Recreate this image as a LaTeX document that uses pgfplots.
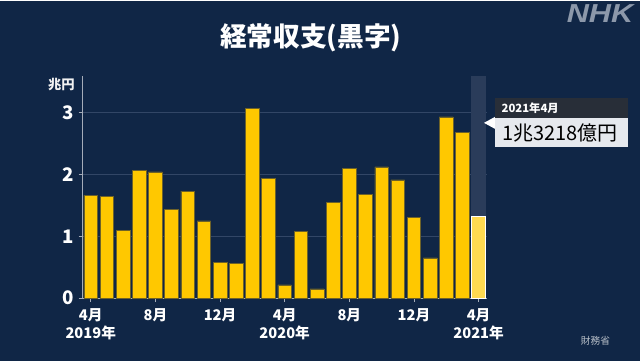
\documentclass[border=0pt]{standalone}
\usepackage{pgfplots}
\pgfplotsset{compat=1.18}
\usepackage{fontspec}
\setmainfont{Noto Sans CJK JP}
\newfontfamily\nhkfont{Liberation Sans}
\definecolor{bg}{RGB}{16,38,70}
\definecolor{hl}{RGB}{42,60,90}
\definecolor{gridc}{RGB}{50,70,102}
\definecolor{axc}{RGB}{165,172,185}
\definecolor{barc}{RGB}{255,200,0}
\definecolor{barl}{RGB}{255,218,80}
\definecolor{bard}{RGB}{110,98,40}
\definecolor{boxd}{RGB}{40,46,56}
\definecolor{boxl}{RGB}{230,233,238}
\definecolor{nhkc}{RGB}{140,152,170}
\begin{document}
\begin{tikzpicture}
\fill[bg] (0,0) rectangle (480pt,270pt);
\begin{axis}[
  at={(62pt,47pt)}, anchor=south west,
  scale only axis, width=303pt, height=166.7pt,
  xmin=-0.5, xmax=24.5, ymin=0, ymax=3.59,
  axis line style={draw=axc, line width=0.6pt},
  axis x line*=bottom, axis y line*=left,
  ymajorgrids, grid style={gridc, line width=0.5pt},
  ytick={0,1,2,3},
  xtick={0,4,8,12,16,20,24},
  xticklabels={{4月\\2019年},8月,12月,{4月\\2020年},8月,12月,{4月\\2021年}},
  tick style={draw=axc, line width=0.6pt},
  tick align=outside,
  major tick length=3pt,
  /pgf/number format/assume math mode=true,
  xticklabel style={align=center, text=white, font=\bfseries\fontsize{11}{13.5}\selectfont, yshift=-1pt},
  yticklabel style={text=white, font=\bfseries\fontsize{14}{14}\selectfont, xshift=0pt},
  clip=false,
]
\addplot[ybar, bar width=0.95, bar shift=0pt, fill=hl, draw=none] coordinates {(24,3.59)};
\addplot[ybar, bar width=0.84, bar shift=0pt, fill=barc, draw=bard, line width=0.4pt] coordinates {
(0,1.66) (1,1.64) (2,1.10) (3,2.06) (4,2.04) (5,1.43) (6,1.73) (7,1.25)
(8,0.575) (9,0.56) (10,3.07) (11,1.94) (12,0.215) (13,1.08) (14,0.15)
(15,1.55) (16,2.10) (17,1.68) (18,2.12) (19,1.91) (20,1.30) (21,0.65)
(22,2.93) (23,2.675)};
\addplot[ybar, bar width=0.84, bar shift=0pt, fill=barl, draw=white, line width=0.6pt] coordinates {(24,1.3218)};
\end{axis}
% title
\node[text=white, font=\bfseries\fontsize{20}{20}\selectfont] at (233pt,241.9pt) {経常収支(黒字)};
% NHK logo
\node[text=nhkc, font=\nhkfont\bfseries\itshape\fontsize{19.5}{19.5}\selectfont, xscale=1.18] at (450pt,260.6pt) {NHK};
% unit
\node[text=white!90!gray, font=\bfseries\fontsize{10}{10}\selectfont] at (46pt,207pt) {兆円};
% source
\node[text=white!70!bg, font=\fontsize{7.3}{7.3}\selectfont] at (446.6pt,15pt) {財務省};
% annotation
\fill[white] (363pt,178.5pt) -- (371.25pt,183pt) -- (371.25pt,174pt) -- cycle;
\fill[boxd] (371.25pt,182.25pt) rectangle (471pt,197.25pt);
\fill[boxl] (371.25pt,160.5pt) rectangle (471pt,182.25pt);
\node[anchor=west, text=white, font=\bfseries\fontsize{8.5}{8.5}\selectfont, inner sep=0pt] at (376pt,189.75pt) {2021年4月};
\node[anchor=west, text=black, font=\fontsize{15}{15}\selectfont, inner sep=0pt] at (376.5pt,171.2pt) {1兆3218億円};
\end{tikzpicture}
\end{document}
